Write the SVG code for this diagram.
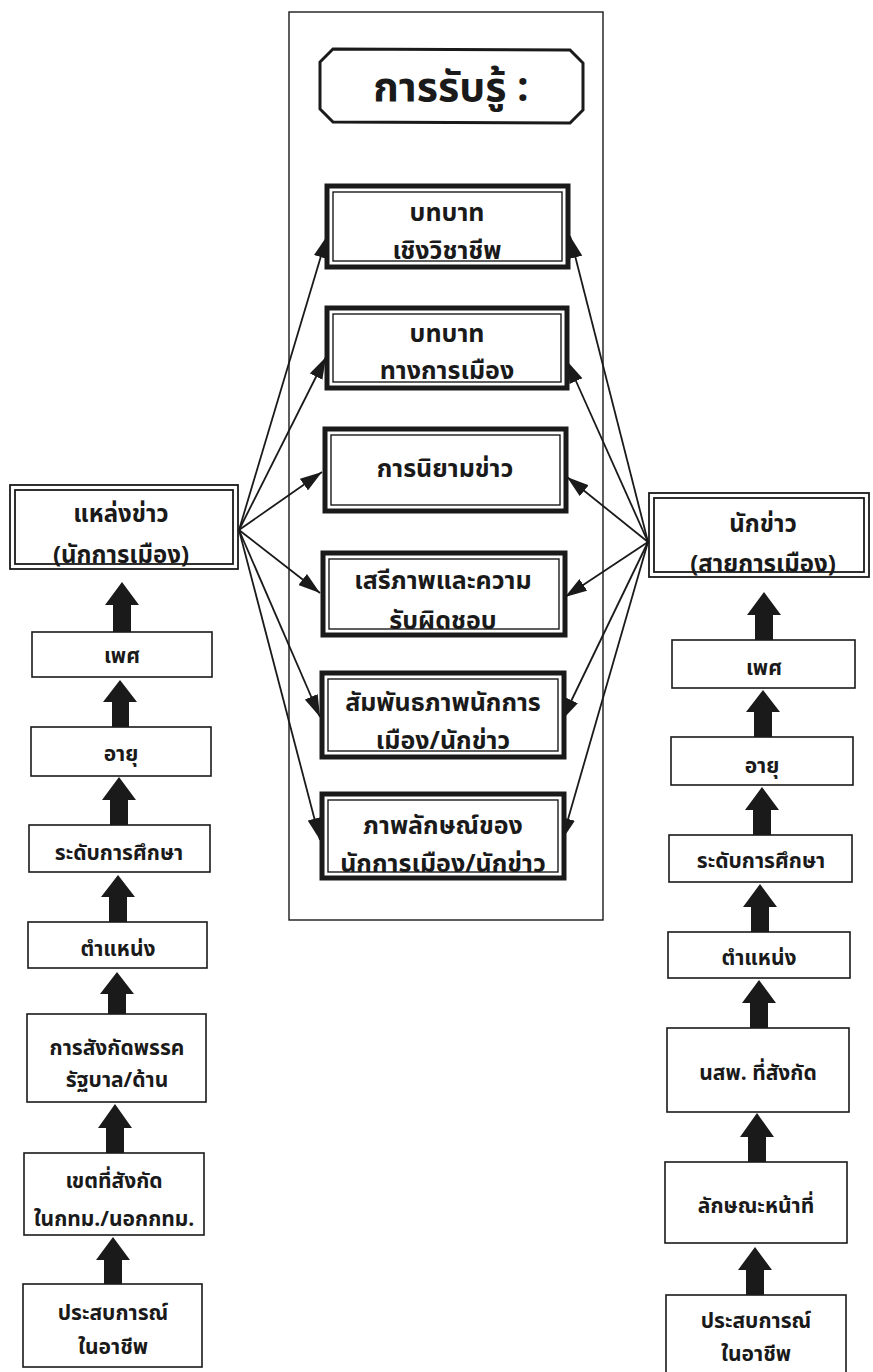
<svg xmlns="http://www.w3.org/2000/svg" width="873" height="1372" viewBox="0 0 873 1372">
<defs>
<style>
text{font-family:"Noto Sans Thai","Noto Sans Thai UI","Loma","Garuda","Norasi","Noto Sans","DejaVu Sans",sans-serif;font-weight:bold;fill:#1a1a1a;text-anchor:middle}
.t18{font-size:21px}
.t22{font-size:24px}
.t25{font-size:25px}
.title{font-size:41px}
.thin{fill:#fff;stroke:#1a1a1a;stroke-width:1.6}
.thick{fill:#fff;stroke:#1a1a1a;stroke-width:5}
.inner{fill:none;stroke:#1a1a1a;stroke-width:1.4}
.dbl{fill:none;stroke:#1a1a1a;stroke-width:1.8}
.conn{stroke:#1a1a1a;stroke-width:1.8;fill:none}
.blk{fill:#1a1a1a}
</style>
<marker id="ah2" viewBox="0 0 22 14" refX="22" refY="7" markerWidth="22" markerHeight="14" markerUnits="userSpaceOnUse" orient="auto">
<path d="M0,0 L22,7 L0,14 Z" fill="#1a1a1a"/>
</marker>
</defs>
<rect width="873" height="1372" fill="#fff"/>

<g id="container">
<rect x="289" y="12" width="314" height="908" fill="none" stroke="#1a1a1a" stroke-width="1.4"/>
</g>

<g id="title">
<path d="M333,49 L570,50 L583,63 L583,110 L570,123 L333,122 L320,109 L320,62 Z" fill="#fff" stroke="#1a1a1a" stroke-width="3"/>
<text class="title" x="451" y="101">การรับรู้ :</text>
</g>

<g id="connectors">
<line class="conn" x1="239" y1="530" x2="327" y2="236" marker-end="url(#ah2)"/>
<line class="conn" x1="239" y1="530" x2="326" y2="357" marker-end="url(#ah2)"/>
<line class="conn" x1="239" y1="530" x2="322" y2="472" marker-end="url(#ah2)"/>
<line class="conn" x1="239" y1="530" x2="320" y2="593" marker-end="url(#ah2)"/>
<line class="conn" x1="239" y1="530" x2="320" y2="717" marker-end="url(#ah2)"/>
<line class="conn" x1="239" y1="530" x2="320" y2="840" marker-end="url(#ah2)"/>
<line class="conn" x1="648" y1="542" x2="570" y2="236" marker-end="url(#ah2)"/>
<line class="conn" x1="648" y1="542" x2="567" y2="361" marker-end="url(#ah2)"/>
<line class="conn" x1="648" y1="542" x2="567" y2="477" marker-end="url(#ah2)"/>
<line class="conn" x1="648" y1="542" x2="565" y2="597" marker-end="url(#ah2)"/>
<line class="conn" x1="648" y1="542" x2="562" y2="720" marker-end="url(#ah2)"/>
<line class="conn" x1="648" y1="542" x2="562" y2="840" marker-end="url(#ah2)"/>
</g>

<g id="n-professional">
<rect class="thick" x="327" y="186" width="241" height="81"/>
<rect class="inner" x="333" y="192" width="229" height="69"/>
<text class="t25" x="447" y="221">บทบาท</text>
<text class="t25" x="447" y="259">เชิงวิชาชีพ</text>
</g>
<g id="n-political">
<rect class="thick" x="327" y="308" width="240" height="80"/>
<rect class="inner" x="333" y="314" width="228" height="68"/>
<text class="t25" x="447" y="342">บทบาท</text>
<text class="t25" x="447" y="379">ทางการเมือง</text>
</g>
<g id="n-newsdef">
<rect class="thick" x="325" y="429" width="241" height="82"/>
<rect class="inner" x="331" y="435" width="229" height="70"/>
<text class="t25" x="445" y="477">การนิยามข่าว</text>
</g>
<g id="n-freedom">
<rect class="thick" x="323" y="553" width="242" height="82"/>
<rect class="inner" x="329" y="559" width="230" height="70"/>
<text class="t25" x="443" y="589">เสรีภาพและความ</text>
<text class="t25" x="443" y="629">รับผิดชอบ</text>
</g>
<g id="n-relation">
<rect class="thick" x="322" y="673" width="242" height="84"/>
<rect class="inner" x="328" y="679" width="230" height="72"/>
<text class="t25" x="443" y="711">สัมพันธภาพนักการ</text>
<text class="t25" x="443" y="749">เมือง/นักข่าว</text>
</g>
<g id="n-image">
<rect class="thick" x="322" y="794" width="242" height="84"/>
<rect class="inner" x="328" y="800" width="230" height="72"/>
<text class="t25" x="443" y="834">ภาพลักษณ์ของ</text>
<text class="t25" x="443" y="872">นักการเมือง/นักข่าว</text>
</g>

<g id="n-source">
<rect class="dbl" x="10" y="485" width="228" height="84" fill="#fff"/>
<rect class="dbl" x="15" y="490" width="218" height="74"/>
<text class="t22" x="121" y="522">แหล่งข่าว</text>
<text class="t22" x="121" y="563">(นักการเมือง)</text>
</g>
<g id="n-reporter">
<rect class="dbl" x="649" y="493" width="220" height="84" fill="#fff"/>
<rect class="dbl" x="654" y="498" width="210" height="74"/>
<text class="t22" x="763" y="532">นักข่าว</text>
<text class="t22" x="763" y="572">(สายการเมือง)</text>
</g>

<g id="left-column">
<g id="l-sex"><rect class="thin" x="32" y="632" width="180" height="45"/><text class="t18" x="122" y="663">เพศ</text></g>
<g id="l-age"><rect class="thin" x="31" y="727" width="180" height="49"/><text class="t18" x="121" y="761">อายุ</text></g>
<g id="l-edu"><rect class="thin" x="29" y="825" width="181" height="47"/><text class="t18" x="119" y="860">ระดับการศึกษา</text></g>
<g id="l-pos"><rect class="thin" x="28" y="922" width="179" height="46"/><text class="t18" x="118" y="956">ตำแหน่ง</text></g>
<g id="l-party"><rect class="thin" x="27" y="1014" width="179" height="88"/><text class="t18" x="117" y="1055">การสังกัดพรรค</text><text class="t18" x="117" y="1087">รัฐบาล/ด้าน</text></g>
<g id="l-zone"><rect class="thin" x="24" y="1153" width="180" height="82"/><text class="t18" x="114" y="1188">เขตที่สังกัด</text><text class="t18" x="114" y="1226">ในกทม./นอกกทม.</text></g>
<g id="l-exp"><rect class="thin" x="23" y="1284" width="179" height="83"/><text class="t18" x="113" y="1320">ประสบการณ์</text><text class="t18" x="113" y="1354">ในอาชีพ</text></g>
</g>

<g id="right-column">
<g id="r-sex"><rect class="thin" x="672" y="640" width="183" height="48"/><text class="t18" x="764" y="675">เพศ</text></g>
<g id="r-age"><rect class="thin" x="671" y="737" width="182" height="48"/><text class="t18" x="762" y="773">อายุ</text></g>
<g id="r-edu"><rect class="thin" x="669" y="835" width="183" height="47"/><text class="t18" x="761" y="868">ระดับการศึกษา</text></g>
<g id="r-pos"><rect class="thin" x="668" y="932" width="182" height="46"/><text class="t18" x="759" y="965">ตำแหน่ง</text></g>
<g id="r-paper"><rect class="thin" x="667" y="1028" width="182" height="84"/><text class="t18" x="758" y="1080">นสพ. ที่สังกัด</text></g>
<g id="r-duty"><rect class="thin" x="665" y="1162" width="182" height="81"/><text class="t18" x="756" y="1213">ลักษณะหน้าที่</text></g>
<g id="r-exp"><rect class="thin" x="666" y="1295" width="180" height="80"/><text class="t18" x="756" y="1328">ประสบการณ์</text><text class="t18" x="756" y="1361">ในอาชีพ</text></g>
</g>

<g id="block-arrows">
<path class="blk" d="M113,632 L113,605 L105,605 L122,582 L139,605 L131,605 L131,632 Z"/>
<path class="blk" d="M112,727 L112,702 L103,702 L120,680 L137,702 L129,702 L129,727 Z"/>
<path class="blk" d="M110,825 L110,800 L102,800 L119,777 L136,800 L128,800 L128,825 Z"/>
<path class="blk" d="M109,922 L109,897 L101,897 L118,875 L135,897 L127,897 L127,922 Z"/>
<path class="blk" d="M108,1014 L108,994 L100,994 L117,972 L134,994 L126,994 L126,1014 Z"/>
<path class="blk" d="M106,1153 L106,1128 L98,1128 L115,1104 L132,1128 L124,1128 L124,1153 Z"/>
<path class="blk" d="M104,1284 L104,1260 L96,1260 L113,1237 L130,1260 L122,1260 L122,1284 Z"/>

<path class="blk" d="M755,640 L755,615 L747,615 L764,592 L781,615 L773,615 L773,640 Z"/>
<path class="blk" d="M754,737 L754,712 L746,712 L763,690 L780,712 L772,712 L772,737 Z"/>
<path class="blk" d="M753,835 L753,810 L745,810 L762,787 L779,810 L771,810 L771,835 Z"/>
<path class="blk" d="M751,932 L751,907 L743,907 L760,884 L777,907 L769,907 L769,932 Z"/>
<path class="blk" d="M750,1028 L750,1003 L742,1003 L759,980 L776,1003 L768,1003 L768,1028 Z"/>
<path class="blk" d="M748,1162 L748,1137 L740,1137 L757,1113 L774,1137 L766,1137 L766,1162 Z"/>
<path class="blk" d="M746,1295 L746,1270 L738,1270 L755,1247 L772,1270 L764,1270 L764,1295 Z"/>
</g>
</svg>
